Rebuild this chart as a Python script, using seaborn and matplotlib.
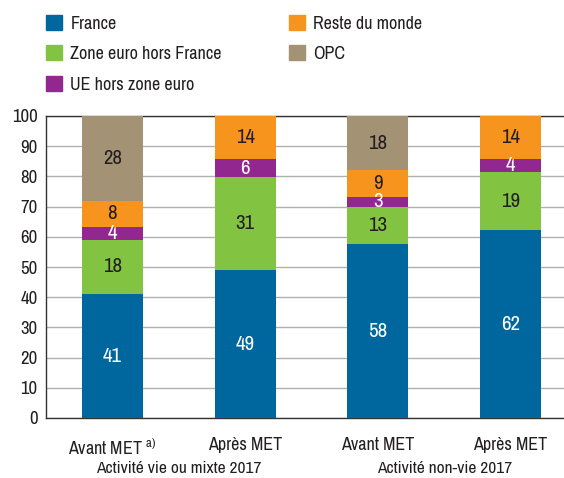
import matplotlib
matplotlib.use("Agg")
import matplotlib.pyplot as plt
import matplotlib.patches as mpatches
from matplotlib import font_manager
import numpy as np
import pandas as pd
import seaborn as sns

# Data (percent, per bar, bottom to top)
bar_keys = ['b1', 'b2', 'b3', 'b4']
tick_labels = ['Avant MET $^{a)}$', 'Après MET', 'Avant MET', 'Après MET']
group_labels = ['Activité vie ou mixte 2017', 'Activité non-vie 2017']
series = ['France', 'Zone euro hors France', 'UE hors zone euro', 'Reste du monde', 'OPC']
france = [40.9, 48.9, 57.5, 62.1]
zone_euro = [18.2, 30.9, 12.5, 19.3]
ue_hors = [4.2, 5.8, 3.1, 4.2]
reste = [8.7, 14.4, 9.0, 14.4]
opc = [28.0, 0.0, 17.9, 0.0]
# printed labels
lab_france = [41, 49, 58, 62]
lab_ze = [18, 31, 13, 19]
lab_ue = [4, 6, 3, 4]
lab_reste = [8, 14, 9, 14]
lab_opc = [28, None, 18, None]

colors = ['#00679e', '#82c341', '#922790', '#f7941d', '#a39274']
text_colors = ['white', '#231f20', 'white', '#231f20', '#231f20']

sns.set_style('white')

# the original uses a condensed face: take a narrow one if installed
fonts = font_manager.fontManager.ttflist
narrow = [f.name for f in fonts if 'Narrow' in f.name or 'Condensed' in f.name]
if narrow:
    plt.rcParams['font.family'] = [narrow[0], 'DejaVu Sans']
else:
    plt.rcParams['font.family'] = ['DejaVu Sans']
    if any(f.name == 'DejaVu Sans' and f.stretch == 'condensed' for f in fonts):
        plt.rcParams['font.stretch'] = 'condensed'
plt.rcParams['mathtext.default'] = 'regular'

fig = plt.figure(figsize=(5.64, 4.78), dpi=100)
ax = fig.add_axes([46 / 564, 60 / 478, 531 / 564, 302 / 478])

values = [france, zone_euro, ue_hors, reste, opc]
labels = [lab_france, lab_ze, lab_ue, lab_reste, lab_opc]
cum = np.zeros(len(bar_keys))
for name, vals, col, labs, tc in zip(series, values, colors, labels, text_colors):
    df = pd.DataFrame({'bar': bar_keys, 'value': vals})
    sns.barplot(data=df, x='bar', y='value', color=col, saturation=1,
                width=0.46, errorbar=None, bottom=cum, ax=ax, zorder=3,
                linewidth=0)
    for i, (v, l) in enumerate(zip(vals, labs)):
        if l is not None:
            ax.text(i, cum[i] + v / 2, str(l), ha='center', va='center',
                    color=tc, fontsize=15, zorder=4)
    cum = cum + np.array(vals)

ax.set_ylim(0, 100)
ax.set_xlim(-0.5, 3.5)
ax.set_yticks(range(0, 101, 10))
ax.yaxis.grid(True, color='#b0b0b0', linewidth=1, zorder=0)
ax.set_axisbelow(True)
for s in ['left', 'bottom', 'top']:
    ax.spines[s].set_color('#333333')
    ax.spines[s].set_linewidth(1)
ax.spines['right'].set_visible(False)
ax.tick_params(axis='both', length=0, colors='#231f20')
ax.tick_params(axis='y', pad=6, labelsize=13.5)
ax.tick_params(axis='x', pad=14, labelsize=13)
ax.set_xticks(range(4))
ax.set_xticklabels(tick_labels)
ax.set_xlabel('')
ax.set_ylabel('')

# group labels
for gx, g in zip([0.5, 2.5], group_labels):
    ax.annotate(g, xy=(gx, 0), xycoords=('data', 'axes fraction'),
                xytext=(0, -36.5), textcoords='offset points', fontsize=12.5,
                color='#231f20', ha='center', va='center')

# legend, two columns
handles = [mpatches.Patch(color=c, label=s) for c, s in zip(colors, series)]
leg_kw = dict(frameon=False, fontsize=13, handlelength=0.9, handleheight=0.9,
              handletextpad=0.45, labelspacing=0.76, borderpad=0, borderaxespad=0,
              loc='upper left', labelcolor='#231f20')
fig.legend(handles=handles[:3], bbox_to_anchor=(46 / 564, 1 - 15 / 478), **leg_kw)
fig.legend(handles=handles[3:], bbox_to_anchor=(289 / 564, 1 - 15 / 478), **leg_kw)

fig.savefig('out.png', dpi=100)
